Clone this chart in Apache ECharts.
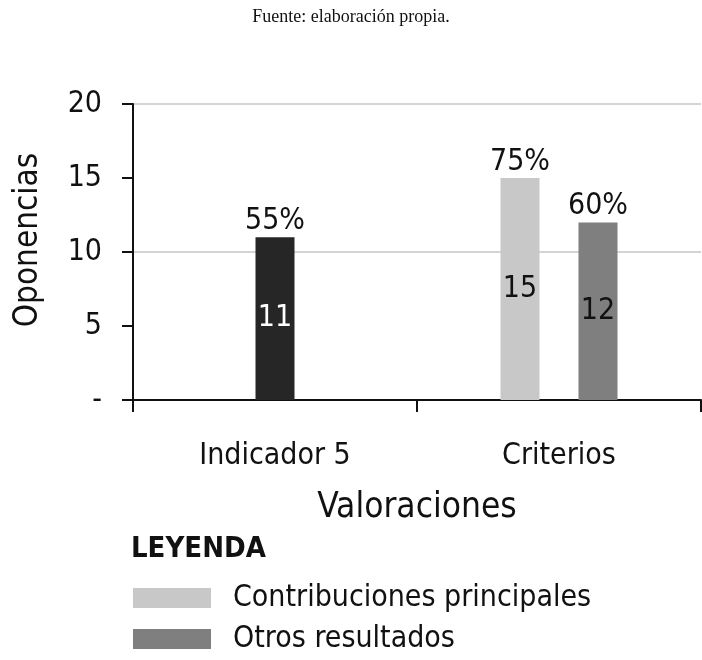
<!DOCTYPE html>
<html>
<head>
<meta charset="utf-8">
<script src="https://cdn.jsdelivr.net/npm/echarts@6/dist/echarts.min.js"></script>
<style>
  html, body { margin: 0; padding: 0; background: #fff; }
  #chart { width: 702px; height: 660px; }
</style>
</head>
<body>
<div id="chart"></div>
<script>
// datos
var categorias = ["Indicador 5", "Criterios"];
var indicador = [11, "-"];
var contribuciones = ["-", 15];
var otros = ["-", 12];
var pctIndicador = ["55%", ""];
var pctContribuciones = ["", "75%"];
var pctOtros = ["", "60%"];
var yTicks = [0, 5, 10, 15, 20];

var FONT = "DejaVu Sans Condensed";

// serie en cero apilada encima para poner el porcentaje arriba
function topOf(vals) {
  return vals.map(function (v) { return v === "-" ? "-" : 0; });
}

function barSerie(name, data, color, stack, xIdx, labelColor) {
  return {
    name: name,
    type: "bar",
    xAxisIndex: xIdx,
    stack: stack,
    barWidth: 39,
    barGap: "100%",
    data: data,
    itemStyle: { color: color },
    label: {
      show: true,
      position: "inside",
      color: labelColor,
      fontFamily: FONT,
      fontSize: 30,
      formatter: function (p) { return p.value; }
    },
    emphasis: { disabled: true }
  };
}

function pctSerie(vals, txt, stack, xIdx) {
  return {
    type: "bar",
    xAxisIndex: xIdx,
    stack: stack,
    barWidth: 39,
    barGap: "100%",
    data: topOf(vals),
    itemStyle: { color: "transparent" },
    label: {
      show: true,
      position: "top",
      distance: 1,
      color: "#111",
      fontFamily: FONT,
      fontSize: 30,
      formatter: function (p) { return txt[p.dataIndex]; }
    },
    emphasis: { disabled: true }
  };
}

var chart = echarts.init(document.getElementById("chart"));
var option = {
  animation: false,
  title: [
    {
      text: "Fuente: elaboración propia.",
      left: "center",
      top: 3,
      textStyle: { fontFamily: "Liberation Serif", fontWeight: "normal", fontSize: 18, color: "#111" }
    },
    {
      text: "LEYENDA",
      left: 131,
      top: 535,
      padding: 0,
      textStyle: { fontFamily: FONT, fontWeight: "bold", fontSize: 29, color: "#111" }
    }
  ],
  legend: {
    data: ["Contribuciones principales", "Otros resultados"],
    orient: "vertical",
    left: 133,
    top: 583,
    padding: 0,
    itemWidth: 78,
    itemHeight: 20,
    itemGap: 11,
    icon: "rect",
    selectedMode: false,
    textStyle: { fontFamily: FONT, fontSize: 30, color: "#111", padding: [0, 0, 0, 17] }
  },
  grid: { left: 133, right: 1, top: 104, bottom: 260 },
  xAxis: [
    {
      type: "category",
      data: categorias,
      name: "Valoraciones",
      nameLocation: "middle",
      nameGap: 90,
      nameTextStyle: { fontFamily: FONT, fontSize: 35, color: "#111" },
      axisLine: { lineStyle: { color: "#111", width: 2 } },
      axisTick: { show: true, length: 12, lineStyle: { color: "#111", width: 2 } },
      axisLabel: { margin: 41, fontFamily: FONT, fontSize: 30, color: "#111" }
    },
    {
      type: "category",
      data: categorias,
      show: false
    }
  ],
  yAxis: [
    {
      type: "value",
      min: 0,
      max: 20,
      interval: 5,
      name: "Oponencias",
      nameLocation: "middle",
      nameGap: 88,
      nameTextStyle: { fontFamily: FONT, fontSize: 33, color: "#111", padding: [0, 0, 0, 24] },
      axisLine: { show: true, lineStyle: { color: "#111", width: 2 } },
      axisTick: { show: true, length: 11, lineStyle: { color: "#111", width: 2 } },
      splitLine: { show: false },
      axisLabel: {
        margin: 31,
        fontFamily: FONT,
        fontSize: 30,
        color: "#111",
        formatter: function (v) { return v === yTicks[0] ? "-" : v; }
      }
    },
    {
      type: "value",
      min: 0,
      max: 20,
      interval: 10,
      position: "left",
      axisLine: { show: false },
      axisTick: { show: false },
      axisLabel: { show: false },
      splitLine: { show: true, lineStyle: { color: "#d4d4d4", width: 2 } }
    }
  ],
  series: [
    barSerie("Indicador", indicador, "#262626", "d", 1, "#fff"),
    pctSerie(indicador, pctIndicador, "d", 1),
    barSerie("Contribuciones principales", contribuciones, "#c8c8c8", "c", 0, "#111"),
    pctSerie(contribuciones, pctContribuciones, "c", 0),
    barSerie("Otros resultados", otros, "#7f7f7f", "o", 0, "#111"),
    pctSerie(otros, pctOtros, "o", 0)
  ]
};
chart.setOption(option);
</script>
</body>
</html>
